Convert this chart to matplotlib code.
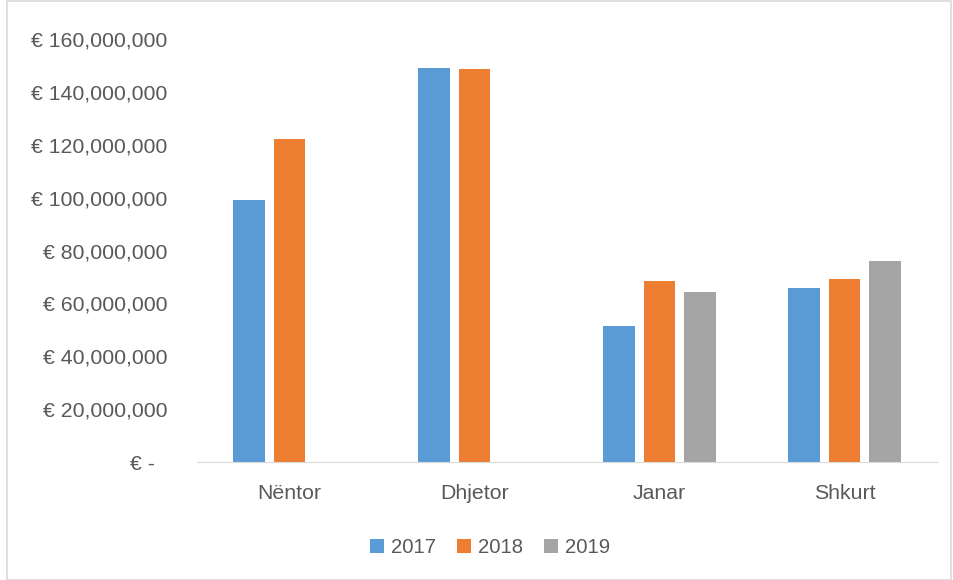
import matplotlib.pyplot as plt
import numpy as np
from matplotlib.ticker import FuncFormatter
from matplotlib.patches import Rectangle

# Data
months = ["Nëntor", "Dhjetor", "Janar", "Shkurt"]
years = ["2017", "2018", "2019"]
v2017 = [99.1e6, 148.9e6, 51.4e6, 65.7e6]
v2018 = [122.1e6, 148.6e6, 68.5e6, 69.2e6]
v2019 = [np.nan, np.nan, 64.3e6, 76.0e6]
colors = ["#5B9BD5", "#ED7D31", "#A5A5A5"]

plt.rcParams["font.family"] = ["Liberation Sans", "DejaVu Sans"]

fig = plt.figure(figsize=(9.54, 5.8), dpi=100)
ax = fig.add_axes([0.2065, 0.2034, 0.7757, 0.7293])

x = np.arange(len(months))
width = 0.172
step = 0.22
for i, (vals, lab) in enumerate(zip([v2017, v2018, v2019], years)):
    ax.bar(x + (i - 1) * step, vals, width, color=colors[i], label=lab)

ax.set_xlim(-0.5, 3.5)
ax.set_ylim(0, 160e6)
ax.set_yticks(np.arange(0, 160e6 + 1, 20e6))


def euro(v, pos):
    if v == 0:
        return "€ -  "
    return f"€ {v:,.0f}"


ax.yaxis.set_major_formatter(FuncFormatter(euro))
ax.set_xticks(x)
ax.set_xticklabels(months)

for s in ["top", "right", "left"]:
    ax.spines[s].set_visible(False)
ax.spines["bottom"].set_color("#D9D9D9")
ax.tick_params(axis="both", length=0, colors="#595959", labelsize=15.3)
ax.tick_params(axis="y", pad=21.5)
ax.tick_params(axis="x", pad=16)

fig.legend(loc="center", bbox_to_anchor=(0.514, 0.056), ncol=3, frameon=False,
           fontsize=14.6, handlelength=0.69, handleheight=0.64, handletextpad=0.35,
           columnspacing=1.03, labelcolor="#595959")

# chart border
fig.patches.append(Rectangle((0.007, 0.0), 0.99, 0.998, transform=fig.transFigure,
                             fill=False, edgecolor="#D9D9D9", linewidth=1.2))

fig.savefig("out.png", dpi=100)
